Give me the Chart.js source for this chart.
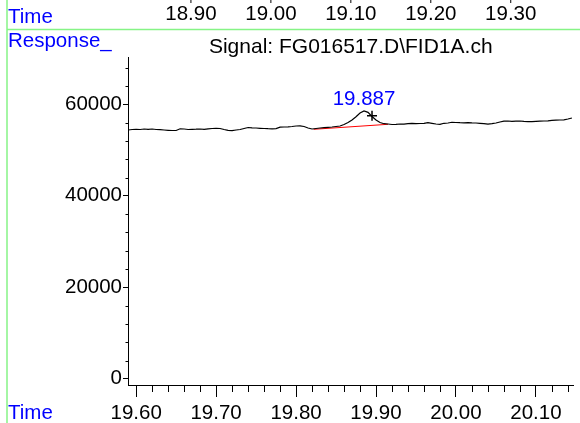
<!DOCTYPE html>
<html>
<head>
<meta charset="utf-8">
<title>FID1A signal</title>
<script src="https://cdn.jsdelivr.net/npm/chart.js@4/dist/chart.umd.min.js"></script>
<style>
  html, body { margin: 0; padding: 0; background: #fff; }
  #wrap { width: 580px; height: 423px; }
</style>
</head>
<body>
<div id="wrap"><canvas id="chart" width="580" height="423"></canvas></div>
<script>
// ==================== DATA ====================
const times = [
  19.590, 19.595, 19.600, 19.605, 19.610, 19.615, 19.620, 19.625, 19.630, 19.635,
  19.640, 19.645, 19.650, 19.655, 19.660, 19.665, 19.670, 19.675, 19.680, 19.685,
  19.690, 19.695, 19.700, 19.705, 19.710, 19.715, 19.720, 19.725, 19.730, 19.735,
  19.740, 19.745, 19.750, 19.755, 19.760, 19.765, 19.770, 19.775, 19.780, 19.785,
  19.790, 19.795, 19.800, 19.805, 19.810, 19.815, 19.820, 19.825, 19.830, 19.835,
  19.840, 19.845, 19.850, 19.855, 19.860, 19.865, 19.870, 19.875, 19.880, 19.885,
  19.890, 19.895, 19.900, 19.905, 19.910, 19.915, 19.920, 19.925, 19.930, 19.935,
  19.940, 19.945, 19.950, 19.955, 19.960, 19.965, 19.970, 19.975, 19.980, 19.985,
  19.990, 19.995, 20.000, 20.005, 20.010, 20.015, 20.020, 20.025, 20.030, 20.035,
  20.040, 20.045, 20.050, 20.055, 20.060, 20.065, 20.070, 20.075, 20.080, 20.085,
  20.090, 20.095, 20.100, 20.105, 20.110, 20.115, 20.120, 20.125, 20.130, 20.135,
  20.140, 20.145
];
const response = [
  54380, 54490, 54540, 54490, 54600, 54540, 54600, 54490, 54450, 54380,
  54320, 54270, 54270, 54650, 54600, 54490, 54540, 54560, 54600, 54540,
  54650, 54710, 54760, 54710, 54490, 54320, 54230, 54380, 54490, 54710,
  54930, 54860, 54820, 54760, 54710, 54670, 54650, 54690, 55000, 55040,
  55080, 55150, 55260, 55300, 55150, 54820, 54600, 54710, 54820, 54890,
  54970, 55040, 55150, 55260, 55590, 56020, 56570, 57270, 58100, 58540,
  58250, 57330, 56570, 56020, 55760, 55690, 55590, 55630, 55690, 55650,
  55760, 55850, 55780, 55800, 55850, 55980, 55850, 55690, 55630, 55850,
  55910, 56070, 56020, 55980, 55960, 56000, 55940, 55910, 55850, 55780,
  55690, 55760, 55910, 56130, 56310, 56350, 56280, 56310, 56350, 56260,
  56200, 56220, 56260, 56310, 56350, 56390, 56500, 56530, 56570, 56610,
  56790, 57010
];

// integration baseline under the peak
const baselineTimes = [19.822, 19.915];
const baselineValues = [54540, 55630];

// peak marker and retention time label
const peakMarkTime = [19.895];
const peakMarkValue = [57510];
const peakLabel = '19.887';
const peakApex = { t: 19.885, v: 58540 };

// axes
const xRange = [19.5898, 20.147];
const yRange = [-1355, 70340];
const xTicks = [19.60, 19.70, 19.80, 19.90, 20.00, 20.10];
const yTicks = [0, 20000, 40000, 60000];
const topTicks = [18.90, 19.00, 19.10, 19.20, 19.30];
const topOffset = 0.7685; // time shift of the panel above
const xMinorStep = 0.02;
const yMinorStep = 4000;

const FONT = '"Liberation Sans", Arial, sans-serif';
const FSIZE = 20.5;

// ==================== DECORATION PLUGIN ====================
const decor = {
  id: 'decor',
  afterDraw(chart) {
    const ctx = chart.ctx;
    const xs = chart.scales.x;
    const ys = chart.scales.y;
    const xt = chart.scales.xTop;
    const area = chart.chartArea;
    ctx.save();

    // green frame of the report
    ctx.strokeStyle = '#86f486';
    ctx.lineWidth = 1.5;
    ctx.beginPath();
    ctx.moveTo(7, 0); ctx.lineTo(7, 423);
    ctx.moveTo(7, 29.5); ctx.lineTo(580, 29.5);
    ctx.stroke();

    // blue captions
    ctx.font = FSIZE + 'px ' + FONT;
    ctx.fillStyle = '#0000ff';
    ctx.textAlign = 'left';
    ctx.textBaseline = 'middle';
    ctx.fillText('Time', 8, 17);
    ctx.fillText('Response_', 8, 41);
    ctx.fillText('Time', 8, 413);

    // title
    ctx.fillStyle = '#000';
    ctx.textAlign = 'center';
    ctx.font = '21px ' + FONT;
    ctx.fillText('Signal: FG016517.D\\FID1A.ch', (area.left + area.right) / 2, 47);
    ctx.font = FSIZE + 'px ' + FONT;

    // cut-off time axis of the panel above
    ctx.strokeStyle = '#000';
    ctx.lineWidth = 1;
    topTicks.forEach(v => {
      const px = xt.getPixelForValue(v);
      ctx.fillText(v.toFixed(2), px, 14);
      ctx.beginPath();
      ctx.moveTo(px, 0); ctx.lineTo(px, 3);
      ctx.stroke();
    });

    // minor ticks
    ctx.beginPath();
    for (let v = Math.ceil(xRange[0] / xMinorStep) * xMinorStep; v <= xRange[1]; v += xMinorStep) {
      const r = Math.round(v * 100);
      if (r % 10 === 0) continue;
      const px = Math.round(xs.getPixelForValue(v)) + 0.5;
      ctx.moveTo(px, area.bottom); ctx.lineTo(px, area.bottom + 7);
    }
    for (let v = yMinorStep; v <= yRange[1]; v += yMinorStep) {
      if (v % 20000 === 0) continue;
      const py = Math.round(ys.getPixelForValue(v)) + 0.5;
      ctx.moveTo(area.left - 2.5, py); ctx.lineTo(area.left, py);
    }
    ctx.stroke();

    // peak label
    ctx.fillStyle = '#0000ff';
    ctx.fillText(peakLabel, xs.getPixelForValue(peakApex.t), ys.getPixelForValue(peakApex.v) - 12);

    ctx.restore();
  }
};

// ==================== CHART ====================
const ctx = document.getElementById('chart').getContext('2d');
new Chart(ctx, {
  type: 'line',
  data: {
    datasets: [
      {
        data: times.map((t, i) => ({ x: t, y: response[i] })),
        borderColor: '#000',
        borderWidth: 1.2,
        pointRadius: 0,
        tension: 0
      },
      {
        data: baselineTimes.map((t, i) => ({ x: t, y: baselineValues[i] })),
        borderColor: '#ff0000',
        borderWidth: 1,
        pointRadius: 0
      },
      {
        type: 'scatter',
        data: peakMarkTime.map((t, i) => ({ x: t, y: peakMarkValue[i] })),
        pointStyle: 'cross',
        pointRadius: 5,
        borderColor: '#000',
        borderWidth: 1.5,
        showLine: false
      }
    ]
  },
  options: {
    responsive: false,
    animation: false,
    layout: { padding: { top: 57, left: 0, right: 0, bottom: 0 } },
    plugins: {
      legend: { display: false },
      title: { display: false },
      tooltip: { enabled: false }
    },
    scales: {
      x: {
        type: 'linear',
        position: 'bottom',
        min: xRange[0],
        max: xRange[1],
        afterBuildTicks: s => { s.ticks = xTicks.map(v => ({ value: v })); },
        afterFit: s => { s.height = 38; },
        border: { display: true, color: '#000', width: 1 },
        grid: { drawOnChartArea: false, drawTicks: true, tickLength: 12, tickColor: '#000' },
        ticks: {
          maxRotation: 0,
          autoSkip: false,
          padding: 4,
          color: '#000',
          font: { family: FONT, size: FSIZE },
          callback: v => Number(v).toFixed(2)
        }
      },
      xTop: {
        type: 'linear',
        display: false,
        min: xRange[0] - topOffset,
        max: xRange[1] - topOffset
      },
      y: {
        type: 'linear',
        min: yRange[0],
        max: yRange[1],
        afterBuildTicks: s => { s.ticks = yTicks.map(v => ({ value: v })); },
        afterFit: s => { s.width = 128; },
        border: { display: true, color: '#000', width: 1 },
        grid: { drawOnChartArea: false, drawTicks: true, tickLength: 5, tickColor: '#000' },
        ticks: {
          autoSkip: false,
          padding: 1,
          color: '#000',
          font: { family: FONT, size: FSIZE },
          callback: v => String(v)
        }
      }
    }
  },
  plugins: [decor]
});
</script>
</body>
</html>
